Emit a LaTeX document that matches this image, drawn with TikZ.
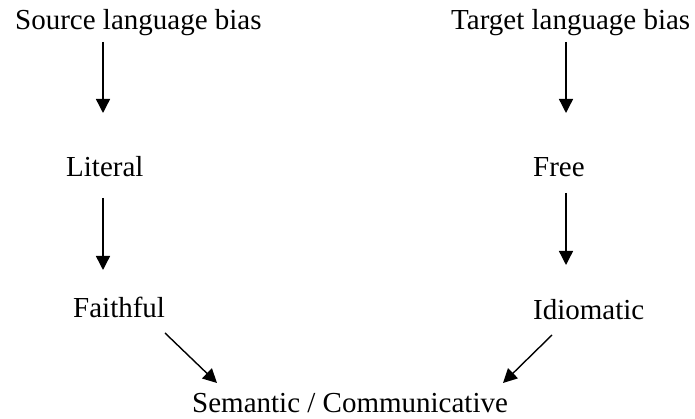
\documentclass[tikz,border=0pt]{standalone}
\usepackage{fontspec}
\setmainfont{Liberation Serif}
\usetikzlibrary{arrows.meta}
\tikzset{
  lbl/.style={anchor=base west,inner sep=0pt,font=\fontsize{29}{34}\selectfont},
  flow/.style={-{Triangle[length=14pt,width=14pt]},line width=1.4pt}
}
\begin{document}
\begin{tikzpicture}[x=1pt,y=1pt]
      \useasboundingbox (0,0) rectangle (695,419);
      \draw
        (15,389) node[lbl] (src){Source language bias}
        (451,389) node[lbl] (tgt){Target language bias}
        (66,242) node[lbl] (lit){Literal}
        (533,242) node[lbl] (free){Free}
        (73,101) node[lbl] (fai){Faithful}
        (533,99) node[lbl] (idi){Idiomatic}
        (192,6) node[lbl] (sem){Semantic / Communicative};
      \begin{scope}[flow]
        \draw ([xshift=88pt,yshift=-12pt]src.base west) to ([xshift=37pt,yshift=64pt]lit.base west);
        \draw ([xshift=115pt,yshift=-12pt]tgt.base west) to ([xshift=33pt,yshift=64pt]free.base west);
        \draw ([xshift=37pt,yshift=-21pt]lit.base west) to ([xshift=30pt,yshift=48pt]fai.base west);
        \draw ([xshift=33pt,yshift=-16pt]free.base west) to ([xshift=33pt,yshift=55pt]idi.base west);
        \draw ([xshift=92pt,yshift=-15pt]fai.base west) to ([xshift=25pt,yshift=30pt]sem.base west);
        \draw ([xshift=19pt,yshift=-15pt]idi.base west) to ([xshift=311pt,yshift=30pt]sem.base west);
      \end{scope}
    \end{tikzpicture}
\end{document}
